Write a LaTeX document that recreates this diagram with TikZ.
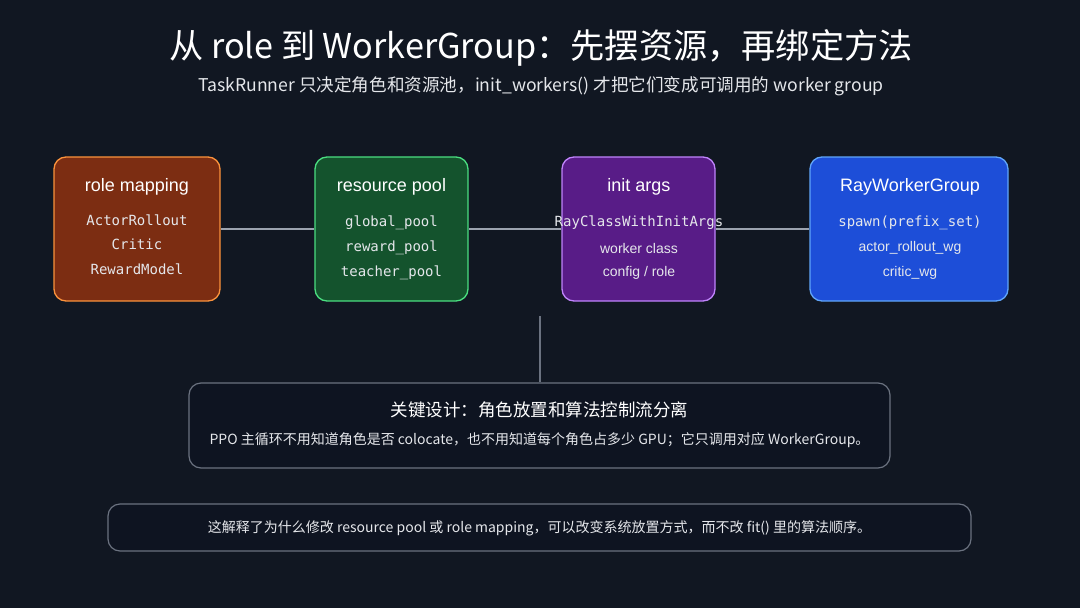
\documentclass[tikz,border=0pt]{standalone}
\usepackage{fontspec}
\setmainfont{Liberation Sans}
\setmonofont{DejaVu Sans Mono}
\newfontfamily\cjk{Noto Sans CJK SC}
\definecolor{bg}{HTML}{111722}
\definecolor{orfill}{HTML}{7C2D12}
\definecolor{ordraw}{HTML}{FB923C}
\definecolor{grfill}{HTML}{14532D}
\definecolor{grdraw}{HTML}{4ADE80}
\definecolor{pufill}{HTML}{581C87}
\definecolor{pudraw}{HTML}{C084FC}
\definecolor{blfill}{HTML}{1D4ED8}
\definecolor{bldraw}{HTML}{60A5FA}
\definecolor{linec}{HTML}{9CA3AF}
\definecolor{noteborder}{HTML}{6B7280}
\definecolor{notefill}{HTML}{0E1421}
\definecolor{itemc}{HTML}{E5E7EB}
\tikzset{
  card/.style={rounded corners=12pt, line width=1.3pt},
  cardtitle/.style={text=white, font=\fontsize{18}{20}\selectfont, anchor=center},
  cardmono/.style={text=itemc, font=\ttfamily\fontsize{14}{16}\selectfont, anchor=center},
  cardsans/.style={text=itemc, font=\fontsize{14}{16}\selectfont, anchor=center},
  conn/.style={draw=linec, line width=1.6pt},
  note/.style={rounded corners=12pt, draw=noteborder, fill=notefill, line width=1.2pt},
}
\begin{document}
\begin{tikzpicture}[x=1pt,y=-1pt]
\fill[bg] (0,0) rectangle (1080,608);
\useasboundingbox (0,0) rectangle (1080,608);

% title
\node[text=white, font=\cjk\fontsize{34.2}{37}\selectfont] (title) at (541,48) {从 role 到 WorkerGroup：先摆资源，再绑定方法};
\node[text=itemc, font=\cjk\fontsize{17.6}{20}\selectfont] (subtitle) at (541,86) {TaskRunner 只决定角色和资源池，init\_workers() 才把它们变成可调用的 worker group};

% cards
\node[card, draw=ordraw, fill=orfill, minimum width=166pt, minimum height=144pt] (role) at (137,229) {};
\node[card, draw=grdraw, fill=grfill, minimum width=153pt, minimum height=144pt] (pool) at (391.5,229) {};
\node[card, draw=pudraw, fill=pufill, minimum width=153pt, minimum height=144pt] (init) at (638.5,229) {};
\node[card, draw=bldraw, fill=blfill, minimum width=198pt, minimum height=144pt] (ray) at (909,229) {};

\draw[conn] (role.east) -- (pool.west);
\draw[conn] (pool.east) -- (init.west);
\draw[conn] (init.east) -- (ray.west);

% role mapping
\node[cardtitle] (rt) at (137,187) {role mapping};
\node[cardmono] (r1) at (137,220) {ActorRollout};
\node[cardmono] (r2) at (137,244) {Critic};
\node[cardmono] (r3) at (137,269) {RewardModel};

% resource pool
\node[cardtitle] (pt) at (391.5,187) {resource pool};
\node[cardmono] (p1) at (391.5,223) {global\_pool};
\node[cardmono] (p2) at (391.5,248) {reward\_pool};
\node[cardmono] (p3) at (391.5,273) {teacher\_pool};

% init args
\node[cardtitle] (it) at (639,187) {init args};
\node[cardmono] (i1) at (639,223) {RayClassWithInitArgs};
\node[cardsans] (i2) at (639,248) {worker class};
\node[cardsans] (i3) at (639,273) {config / role};

% RayWorkerGroup
\node[cardtitle] (wt) at (910,187) {RayWorkerGroup};
\node[cardmono] (w1) at (910,223) {spawn(prefix\_set)};
\node[cardsans] (w2) at (910,248) {actor\_rollout\_wg};
\node[cardsans] (w3) at (910,273) {critic\_wg};

% key design note
\node[note, minimum width=701pt, minimum height=85pt] (key) at (539.5,425.5) {};
\coordinate (vtop) at (540,316);
\draw[draw=noteborder, line width=1.6pt] (vtop) -- (key.north -| vtop);
\node[text=white, font=\cjk\fontsize{17.5}{20}\selectfont] (kt) at (539.5,410) {关键设计：角色放置和算法控制流分离};
\node[text=itemc, font=\cjk\fontsize{14}{16}\selectfont] (kb) at (539.5,440) {PPO 主循环不用知道角色是否 colocate，也不用知道每个角色占多少 GPU；它只调用对应 WorkerGroup。};

% bottom note
\node[note, minimum width=863pt, minimum height=47pt] (bottom) at (539.5,527.5) {};
\node[text=itemc, font=\cjk\fontsize{14}{16}\selectfont] (bt) at (539.5,528) {这解释了为什么修改 resource pool 或 role mapping，可以改变系统放置方式，而不改 fit() 里的算法顺序。};
\end{tikzpicture}
\end{document}
